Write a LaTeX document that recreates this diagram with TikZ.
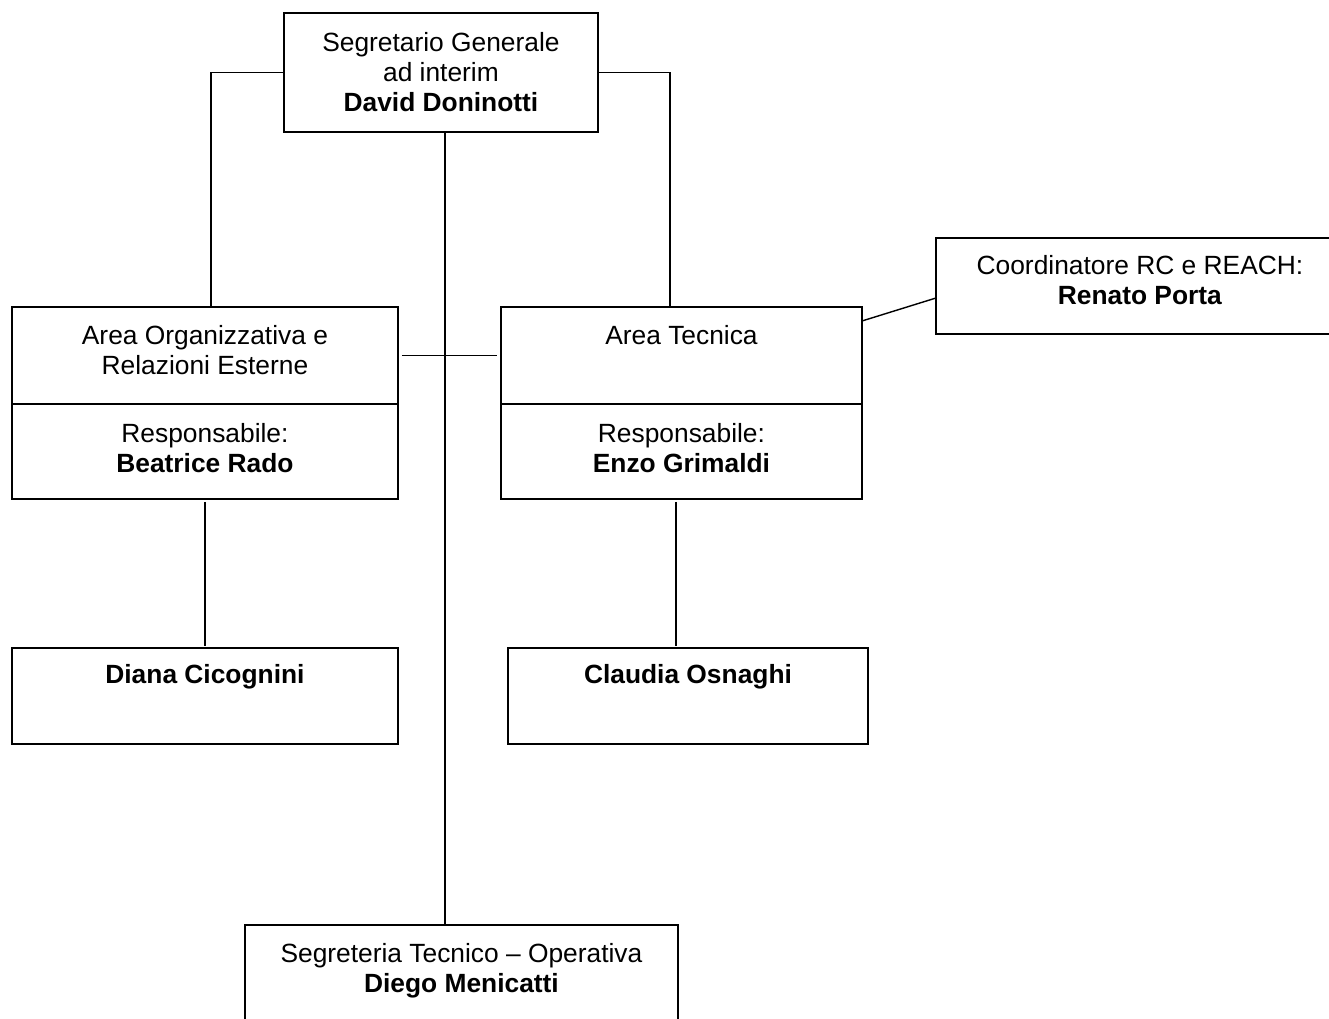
\documentclass[tikz,border=0pt]{standalone}
\usepackage{fontspec}
\setmainfont{Liberation Sans}
\usetikzlibrary{positioning}
\begin{document}
\begin{tikzpicture}
  [x=0.02cm,y=-0.02cm,
   frame/.style={draw,rectangle,line width=1pt,inner sep=0pt,outer sep=0pt,anchor=north west},
   txt/.style={align=center,inner sep=0pt,font=\fontsize{15}{17}\selectfont},
   link/.style={line width=0.8pt}]
  \path[use as bounding box] (0,0) rectangle (1329,1018);
  \clip (0,0) rectangle (1329,1018);

  % boxes
  \node[frame,minimum width=6.28cm,minimum height=2.38cm] (sg)   at (284,13)  {};
  \node[frame,minimum width=7.72cm,minimum height=1.94cm] (aoe)  at (12,307)  {};
  \node[frame,minimum width=7.72cm,minimum height=1.90cm] (aoeR) at (aoe.south west) {};
  \node[frame,minimum width=7.22cm,minimum height=1.94cm] (at)   at (501,307) {};
  \node[frame,minimum width=7.22cm,minimum height=1.90cm] (atR)  at (at.south west) {};
  \node[frame,minimum width=8.16cm,minimum height=1.92cm] (rp)   at (936,238) {};
  \node[frame,minimum width=7.72cm,minimum height=1.92cm] (dc)   at (12,648)  {};
  \node[frame,minimum width=7.20cm,minimum height=1.92cm] (co)   at (508,648) {};
  \node[frame,minimum width=8.66cm,minimum height=2.40cm] (sto)  at (245,925) {};

  % texts
  \node[txt,below=0.39cm of sg.north]   (sgT)   {Segretario Generale\\ad interim\\\textbf{David Doninotti}};
  \node[txt,below=0.37cm of aoe.north]  (aoeT)  {Area Organizzativa e\\Relazioni Esterne};
  \node[txt,below=0.39cm of aoeR.north] (aoeRT) {Responsabile:\\\textbf{Beatrice Rado}};
  \node[txt,below=0.37cm of at.north]   (atT)   {Area Tecnica};
  \node[txt,below=0.39cm of atR.north]  (atRT)  {Responsabile:\\\textbf{Enzo Grimaldi}};
  \node[txt,below=0.35cm of rp.north]   (rpT)   {Coordinatore RC e REACH:\\\textbf{Renato Porta}};
  \node[txt,below=0.33cm of dc.north]   (dcT)   {\textbf{Diana Cicognini}};
  \node[txt,below=0.33cm of co.north]   (coT)   {\textbf{Claudia Osnaghi}};
  \node[txt,below=0.37cm of sto.north]  (stoT)  {Segreteria Tecnico -- Operativa\\\textbf{Diego Menicatti}};

  % connectors
  \draw[link] (sg.west) -| (aoe.north -| 211,0);
  \draw[link] (sg.east) -| (at.north -| 670,0);
  \draw[link] (sg.south -| 445,0) -- (sto.north -| 445,0);
  \draw[link] ([xshift=0.08cm]aoe.east) -- ([xshift=-0.08cm]at.west);
  \draw[link] ([yshift=-0.28cm]at.north east) -- ([yshift=-1.2cm]rp.north west);
  \draw[link] ([yshift=-0.06cm]aoeR.south) -- ([yshift=0.04cm]dc.north);
  \draw[link] ([yshift=-0.06cm]atR.south -| 676,0) -- ([yshift=0.04cm]co.north -| 676,0);

\end{tikzpicture}
\end{document}
